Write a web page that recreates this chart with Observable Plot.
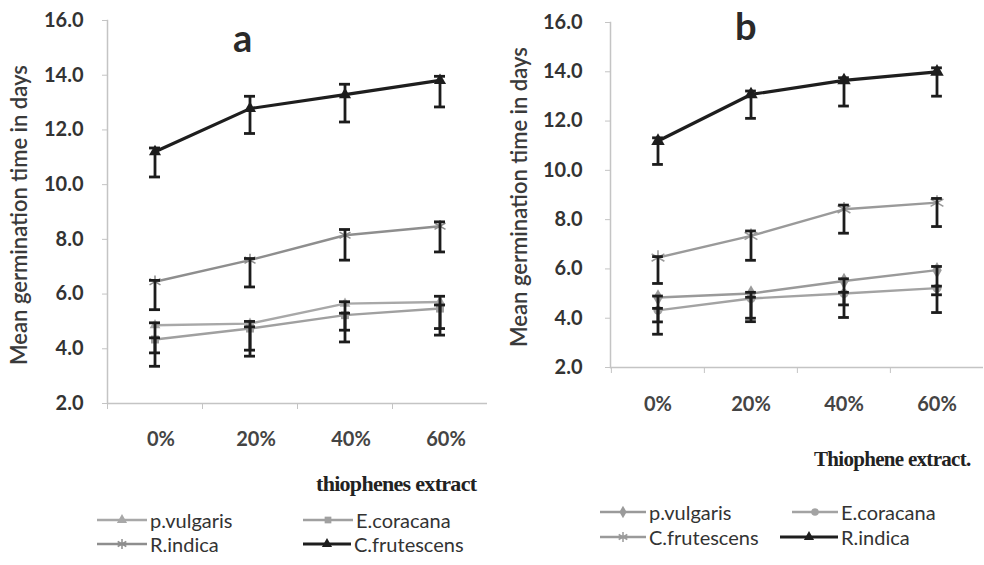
<!DOCTYPE html>
<html>
<head>
<meta charset="utf-8">
<script src="https://cdn.jsdelivr.net/npm/d3@7"></script>
<script src="https://cdn.jsdelivr.net/npm/@observablehq/plot@0.6"></script>
<style>
  html, body { margin: 0; padding: 0; background: #fff; }
  #wrap { position: relative; width: 984px; height: 565px; overflow: hidden; background: #fff; font-family: Lato, "Open Sans", sans-serif; }
  .panel { position: absolute; top: 0; }
  .xt { position: absolute; font-family: "Liberation Serif", serif; font-weight: bold; font-size: 21px; letter-spacing: -0.7px; color: #222; white-space: nowrap; }
  .lg { position: absolute; display: flex; align-items: center; font-size: 20px; color: #333; white-space: nowrap; }
  .lg svg { display: block; }
  .plab { position: absolute; font-family: Lato, sans-serif; font-weight: bold; font-size: 38px; color: #2a2a2a; }
</style>
</head>
<body>
<div id="wrap"></div>
<script>
// ---------- data ----------
const cats = ["0%", "20%", "40%", "60%"];
const yTicks = [2, 4, 6, 8, 10, 12, 14, 16];

// Panel a
const aPVulgaris   = [4.86, 4.92, 5.65, 5.71];
const aPVulgarisLo = [3.85, 3.95, 4.68, 4.74];
const aPVulgarisHi = [4.95, 5.00, 5.72, 5.92];
const aECoracana   = [4.34, 4.74, 5.23, 5.47];
const aECoracanaLo = [3.36, 3.73, 4.25, 4.50];
const aECoracanaHi = [4.40, 4.80, 5.30, 5.60];
const aRIndica     = [6.45, 7.24, 8.15, 8.48];
const aRIndicaLo   = [5.43, 6.26, 7.24, 7.54];
const aRIndicaHi   = [6.50, 7.30, 8.36, 8.64];
const aCFrutescens   = [11.20, 12.78, 13.29, 13.81];
const aCFrutescensLo = [10.28, 11.87, 12.29, 12.84];
const aCFrutescensHi = [11.34, 13.23, 13.67, 13.96];

// Panel b
const bPVulgaris   = [4.84, 5.00, 5.51, 5.95];
const bPVulgarisLo = [3.85, 4.00, 4.54, 4.95];
const bPVulgarisHi = [4.90, 5.05, 5.60, 6.10];
const bECoracana   = [4.32, 4.80, 5.00, 5.22];
const bECoracanaLo = [3.35, 3.86, 4.03, 4.23];
const bECoracanaHi = [4.40, 4.85, 5.05, 5.30];
const bCFrutescens   = [6.46, 7.34, 8.42, 8.69];
const bCFrutescensLo = [5.41, 6.35, 7.45, 7.72];
const bCFrutescensHi = [6.50, 7.54, 8.59, 8.86];
const bRIndica     = [11.19, 13.08, 13.65, 14.00];
const bRIndicaLo   = [10.24, 12.11, 12.61, 13.01];
const bRIndicaHi   = [11.32, 13.22, 13.76, 14.16];

const yTitle = "Mean germination time in days";
const aXTitle = "thiophenes extract";
const bXTitle = "Thiophene extract.";

// ---------- series (style) ----------
const seriesA = [
  {name: "p.vulgaris",   v: aPVulgaris,   lo: aPVulgarisLo,   hi: aPVulgarisHi,   color: "#a8a8a8", sym: "triangle", w: 2.4, r: 4},
  {name: "E.coracana",   v: aECoracana,   lo: aECoracanaLo,   hi: aECoracanaHi,   color: "#a0a0a0", sym: "square",   w: 2.4, r: 4.5},
  {name: "R.indica",     v: aRIndica,     lo: aRIndicaLo,     hi: aRIndicaHi,     color: "#8e8e8e", sym: "asterisk", w: 2.4, r: 6},
  {name: "C.frutescens", v: aCFrutescens, lo: aCFrutescensLo, hi: aCFrutescensHi, color: "#1e1e1e", sym: "triangle", w: 3.2, r: 4.5}
];
const seriesB = [
  {name: "p.vulgaris",   v: bPVulgaris,   lo: bPVulgarisLo,   hi: bPVulgarisHi,   color: "#9a9a9a", sym: "diamond",  w: 2.4, r: 5},
  {name: "E.coracana",   v: bECoracana,   lo: bECoracanaLo,   hi: bECoracanaHi,   color: "#a3a3a3", sym: "circle",   w: 2.4, r: 4.5},
  {name: "C.frutescens", v: bCFrutescens, lo: bCFrutescensLo, hi: bCFrutescensHi, color: "#9a9a9a", sym: "asterisk", w: 2.4, r: 7},
  {name: "R.indica",     v: bRIndica,     lo: bRIndicaLo,     hi: bRIndicaHi,     color: "#1e1e1e", sym: "triangle", w: 3.2, r: 5}
];

function rowsOf(s) {
  return cats.map((c, i) => ({cat: c, v: s.v[i], lo: s.lo[i], hi: s.hi[i], series: s.name}));
}

function panel(series, o) {
  const bw = (o.width - o.marginLeft - o.marginRight) / cats.length;
  const capInset = (bw - 11) / 2;
  const marks = [
    Plot.ruleY([2], {stroke: "#c4c4c4", strokeWidth: 1.5}),
    Plot.frame({anchor: "left", stroke: "#c4c4c4", strokeWidth: 1.5}),
    Plot.axisY({ticks: yTicks, tickSize: 5, tickFormat: () => "", stroke: "#c4c4c4"}),
    Plot.axisY({ticks: yTicks, tickSize: 0, tickPadding: o.yPad, tickFormat: d => d.toFixed(1),
      fontSize: 20, fontWeight: "bold", fill: "#333"}),
    Plot.axisX({ticks: cats, tickSize: 6, dx: -bw / 2, tickFormat: () => "", stroke: "#c4c4c4"}),
    Plot.axisX({ticks: cats, tickSize: 0, tickPadding: o.xPad, dx: o.xDx,
      fontSize: 20, fontWeight: "bold", fill: "#444"})
  ];
  for (const s of series) {
    const rows = rowsOf(s);
    marks.push(Plot.line(rows, {x: "cat", y: "v", stroke: s.color, strokeWidth: s.w}));
    if (s.sym === "asterisk") {
      marks.push(Plot.dot(rows, {x: "cat", y: "v", symbol: "asterisk", stroke: s.color, strokeWidth: 1.6, r: s.r}));
    } else {
      marks.push(Plot.dot(rows, {x: "cat", y: "v", symbol: s.sym, fill: s.color, r: s.r}));
    }
  }
  for (const s of series) {
    const rows = rowsOf(s);
    marks.push(Plot.ruleX(rows, {x: "cat", y1: "lo", y2: "hi", stroke: "#1c1c1c", strokeWidth: 2.8}));
    marks.push(Plot.tickY(rows, {x: "cat", y: "lo", insetLeft: capInset, insetRight: capInset, stroke: "#1c1c1c", strokeWidth: 2.8}));
    marks.push(Plot.tickY(rows, {x: "cat", y: "hi", insetLeft: capInset, insetRight: capInset, stroke: "#1c1c1c", strokeWidth: 2.8}));
  }
  marks.push(Plot.text([yTitle], {frameAnchor: "left", rotate: -90, dx: -o.titleDx, dy: o.titleDy,
    fontSize: 22, fontWeight: 600, fill: "#3a3a3a", textAnchor: "middle"}));
  return Plot.plot({
    width: o.width, height: o.height,
    marginLeft: o.marginLeft, marginRight: o.marginRight, marginTop: o.marginTop, marginBottom: o.marginBottom,
    style: {fontFamily: "Lato, 'Open Sans', sans-serif", background: "transparent", overflow: "visible"},
    x: {domain: cats, padding: 0, label: null, axis: null},
    y: {domain: [2, 16], label: null, axis: null},
    marks
  });
}

const wrap = document.getElementById("wrap");

const pa = panel(seriesA, {width: 492, height: 460, marginLeft: 107, marginRight: 5, marginTop: 20, marginBottom: 57,
  yPad: 24, xPad: 28, xDx: 6, titleDx: 88, titleDy: 3});
pa.classList.add("panel"); pa.style.left = "0px";
wrap.appendChild(pa);

const pb = panel(seriesB, {width: 492, height: 460, marginLeft: 118, marginRight: 1, marginTop: 22, marginBottom: 93,
  yPad: 28, xPad: 29, xDx: 0, titleDx: 91, titleDy: 2});
pb.classList.add("panel"); pb.style.left = "492px";
wrap.appendChild(pb);

// panel letters
function addDiv(cls, text, left, top) {
  const d = document.createElement("div");
  d.className = cls; d.textContent = text;
  d.style.left = left + "px"; d.style.top = top + "px";
  wrap.appendChild(d);
  return d;
}
addDiv("plab", "a", 233, 14);
addDiv("plab", "b", 735, 2);
const xa = addDiv("xt", aXTitle, 316, 471);
xa.style.fontSize = "22px";
addDiv("xt", bXTitle, 814, 447);

// legends
function legendItem(s, left, cy, lineW) {
  const d = document.createElement("div");
  d.className = "lg";
  d.style.left = left + "px"; d.style.top = (cy - 12) + "px"; d.style.height = "24px";
  const svg = d3.create("svg").attr("width", lineW + 2).attr("height", 16);
  svg.append("line").attr("x1", 0).attr("x2", lineW).attr("y1", 8).attr("y2", 8)
    .attr("stroke", s.color).attr("stroke-width", s.w);
  const symMap = {triangle: d3.symbolTriangle, square: d3.symbolSquare, circle: d3.symbolCircle,
    diamond: d3.symbolDiamond, asterisk: d3.symbolAsterisk};
  const path = d3.symbol(symMap[s.sym], s.sym === "asterisk" ? 70 : 45)();
  const p = svg.append("path").attr("d", path).attr("transform", `translate(${lineW / 2},8)`);
  if (s.sym === "asterisk") p.attr("fill", "none").attr("stroke", s.color).attr("stroke-width", 1.5);
  else p.attr("fill", s.color);
  d.appendChild(svg.node());
  const t = document.createElement("span");
  t.textContent = s.name; t.style.marginLeft = "1px";
  d.appendChild(t);
  wrap.appendChild(d);
}
legendItem(seriesA[0], 97, 520, 50);
legendItem(seriesA[1], 303, 520, 50);
legendItem(seriesA[2], 97, 544, 50);
legendItem(seriesA[3], 303, 544, 48);

legendItem(seriesB[0], 600, 512, 46);
legendItem(seriesB[1], 792, 512, 46);
legendItem(seriesB[2], 600, 537, 46);
legendItem(seriesB[3], 780, 537, 58);
</script>
</body>
</html>
